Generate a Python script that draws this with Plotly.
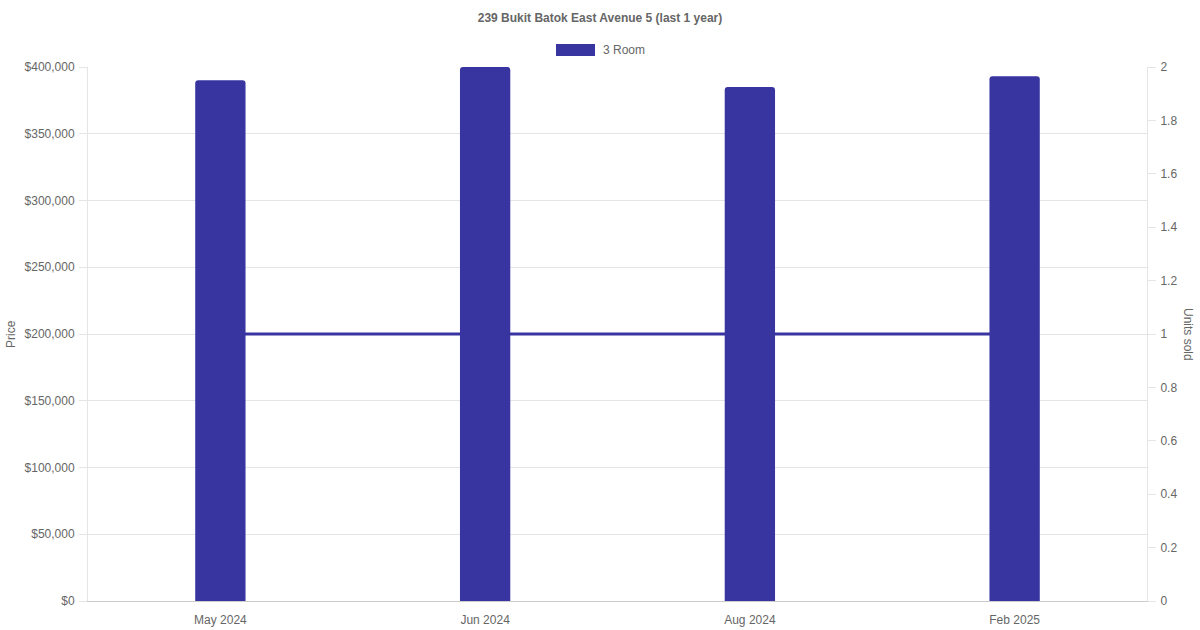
import plotly.graph_objects as go

months = ['May 2024', 'Jun 2024', 'Aug 2024', 'Feb 2025']
price = [390000, 400000, 385000, 393000]
units_sold = [1, 1, 1, 1]

bar_color = '#3834a0'
font = 'Liberation Sans, Arial, sans-serif'
grid = '#e5e5e5'


def px_x(p):
    return (p - 88) / 1059


def px_y(p):
    return (601 - p) / 534


fig = go.Figure()

# line goes on the main axis (right side) so the bars, on the overlaid axis, sit on top of it
fig.add_trace(go.Scatter(x=months, y=units_sold, mode='lines', yaxis='y',
                         line=dict(color=bar_color, width=3), showlegend=False,
                         name='Units sold'))
fig.add_trace(go.Bar(x=months, y=price, yaxis='y2', name='3 Room',
                     marker=dict(color=bar_color, line=dict(width=0)),
                     width=0.19, showlegend=False))

fig.update_layout(
    width=1200, height=630,
    margin=dict(l=88, r=53, t=67, b=29),
    paper_bgcolor='white', plot_bgcolor='white',
    font=dict(family=font, size=12, color='#666'),
    barcornerradius=3,
    title=dict(text='<b>239 Bukit Batok East Avenue 5 (last 1 year)</b>',
               x=0.5, xanchor='center', y=1 - 17.5 / 630, yanchor='middle',
               font=dict(size=12, color='#666')),
    showlegend=False,
    xaxis=dict(type='category', showgrid=False, showline=True, linecolor='#ccc',
               ticks='', automargin=False, ticklabelstandoff=8),
    yaxis=dict(side='right', range=[0, 2], dtick=0.2, showgrid=False,
               zeroline=False, showline=True, linecolor=grid,
               ticks='outside', ticklen=8, tickcolor=grid, tickformat='~g',
               automargin=False, ticklabelstandoff=2),
    yaxis2=dict(side='left', overlaying='y', range=[0, 400000], dtick=50000,
                tickprefix='$', tickformat=',', showgrid=True, gridcolor=grid,
                zeroline=False, showline=True, linecolor=grid,
                ticks='outside', ticklen=8, tickcolor=grid, automargin=False,
                ticklabelstandoff=2),
    annotations=[
        dict(text='Price', x=px_x(11), y=0.5, xref='paper', yref='paper',
             xanchor='center', yanchor='middle',
             textangle=-90, showarrow=False, font=dict(size=12, color='#666')),
        dict(text='Units sold', x=px_x(1188), y=0.5, xref='paper', yref='paper',
             xanchor='center', yanchor='middle',
             textangle=90, showarrow=False, font=dict(size=12, color='#666')),
        dict(text='3 Room', x=px_x(601), y=px_y(50), xref='paper', yref='paper',
             xanchor='left', yanchor='middle', showarrow=False,
             font=dict(size=12, color='#666')),
    ],
    shapes=[
        dict(type='rect', xref='paper', yref='paper',
             x0=px_x(556), x1=px_x(595), y0=px_y(56), y1=px_y(44),
             fillcolor=bar_color, line=dict(width=0)),
    ],
)

fig.write_html('out.html', config={'displayModeBar': False},
               post_script="document.body.style.margin='0';")
